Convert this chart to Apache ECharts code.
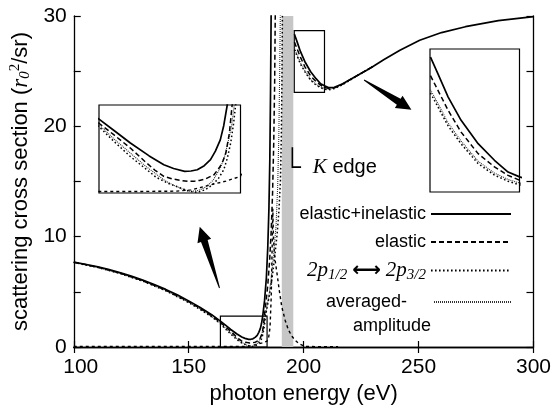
<!DOCTYPE html>
<html><head><meta charset="utf-8">
<script src="https://cdn.jsdelivr.net/npm/echarts/dist/echarts.min.js"></script>
<style>html,body{margin:0;padding:0;background:#fff}#c{width:554px;height:411px}</style>
</head><body><div id="c"></div>
<script>
// ---------- axis ticks ----------
const xTickVals = [100, 150, 200, 250, 300];
const yTickLabels = [0, 10, 20, 30];

// ---------- elastic+inelastic (solid) ----------
const totLoE = [100,105,110,115,120,125,130,135,140,145,150,155,160,163.8,166,168.3,171,173.1,174.5,176.1,177,177.9,178.9,179.8,180.5,181.2,181.7,182.2,183,183.8,184.4,184.9,185.3,185.6,185.9];
const totLoV = [7.70,7.50,7.28,7.03,6.74,6.42,6.06,5.66,5.22,4.73,4.18,3.58,2.93,2.35,1.98,1.59,1.18,0.90,0.78,0.69,0.70,0.74,0.87,1.06,1.33,1.69,2.15,2.80,4.2,6.3,9.0,12.5,17.0,23.0,31.0];
const totHiE = [196.0,197.1,198.6,200.5,203.0,205.4,207.4,209.1,211.0,213.4,217,222,227.6,230,235,241.9,250.5,260,270.4,284.7,300];
const totHiV = [28.35,27.70,26.79,25.88,24.97,24.32,23.86,23.67,23.50,23.54,23.85,24.45,25.10,25.40,26.05,26.90,27.80,28.50,29.03,29.58,29.94];

// ---------- elastic (dashed) ----------
const elLoE = [100,110,120,130,140,150,155,160,163.8,166,168.3,170.5,171.8,173.1,174.3,175.5,176.5,177.4,178.2,179,180.3,181.2,181.6,182,182.5,182.9,183.6,184.4,185.2,185.9,186.5,187,187.4,187.7];
const elLoV = [7.68,7.26,6.71,6.02,5.17,4.11,3.50,2.84,2.22,1.84,1.43,0.98,0.73,0.53,0.45,0.40,0.37,0.37,0.40,0.44,0.58,0.85,1.03,1.27,1.9,2.80,4.0,5.6,7.8,10.5,14.0,18.5,24.0,31.0];
const elHiE = [196.0,197.1,198.6,200.5,203.0,205.4,207.4,209.1,211.0,213.4,217,222,230];
const elHiV = [27.63,27.05,26.27,25.42,24.58,24.06,23.73,23.54,23.42,23.50,23.83,24.44,25.40];

// ---------- 2p1/2 <-> 2p3/2 (coarse dots) ----------
const p2LoE = [100,110,120,130,140,150,155,160,163.8,166,168.3,170.5,172,173.8,175.5,176.7,177.9,179,180,180.9,181.7,182.2,182.7,183.1,183.4,184.5,185.5,186.5,187.5,188.5,189.3,189.9,190.3,190.6,190.8];
const p2LoV = [7.66,7.23,6.67,5.97,5.10,4.03,3.40,2.73,2.11,1.63,1.16,0.77,0.50,0.30,0.16,0.06,0.02,0.10,0.25,0.45,0.74,1.1,1.6,2.2,2.8,4.0,5.2,6.6,8.3,10.3,12.5,15,19,25,31];
const p2HiE = [196.0,198.6,200.5,203.0,205.4,207.4,209.1,211.0,213.4,217,222,230];
const p2HiV = [26.95,25.66,24.96,24.19,23.74,23.50,23.36,23.31,23.43,23.78,24.42,25.40];

// ---------- averaged-amplitude (fine dots) ----------
const avLoE = [100,110,120,130,140,150,155,160,163.8,166,168.3,170.5,173.1,174.2,175.2,176,177.0,178,178.9,179.6,180.2,181.2,181.8,182.3,182.8,183.2,184,185,186,187,188,188.7,189.2,189.6,189.9];
const avLoV = [7.67,7.24,6.68,5.99,5.12,4.06,3.44,2.77,2.17,1.71,1.27,0.85,0.42,0.28,0.18,0.10,0.05,0.08,0.16,0.28,0.42,0.79,1.15,1.6,2.1,2.8,3.6,4.8,6.4,8.5,11,14.5,19,25,31];
const avHiE = [196.0,198.6,200.5,203.0,205.4,207.4,209.1,211.0,213.4,217,222,230];
const avHiV = [27.08,25.78,25.07,24.28,23.82,23.57,23.43,23.37,23.47,23.80,24.43,25.40];

// ---------- near-zero resonant curve (short dashes) ----------
const inE = [100,120,140,160,170,175,177,179.3,182,184.1,184.8,185.4,185.9,186.3,186.6,186.9,187.5,188.4,189.5,190.5,192,193.4,195,196.2,198,200.5,205,215];
const inV = [0.04,0.04,0.04,0.05,0.05,0.06,0.10,0.23,0.38,0.53,0.9,1.8,4.5,9.0,12.5,9.7,8.0,6.7,5.0,3.65,2.4,1.54,0.95,0.63,0.30,0.06,0.03,0.02];

// ---------- annotations (data units) ----------
const kEdgeBand = [190.5, 195.5];
const leftZoomX = [163.8, 184.1], leftZoomY = [0, 2.8];
const rightZoomX = [195.93, 209.08], rightZoomY = [23.08, 28.67];
const arrowLeft = [[163.4, 5.35], [154.8, 10.9]];   // tail, tip
const arrowRight = [[226.3, 24.2], [246.9, 21.5]];
const kEdgeMark = [[195.1, 18.1], [195.1, 16.3], [198.9, 16.3]];
const kEdgeText = [204.0, 16.25];

const FONT = "'Liberation Sans', Arial, Helvetica, sans-serif";
const SERIF = "'Liberation Serif', 'Times New Roman', serif";

function pairs(E, V) { return E.map((e, i) => [e, V[i]]); }
function joinSeg(a, b) { return pairs(a[0], a[1]).concat([[193, null]], pairs(b[0], b[1])); }

const curves = [
  { name: 'elastic+inelastic', data: joinSeg([totLoE, totLoV], [totHiE, totHiV]), ls: { type: 'solid', width: 1.7, color: '#000' }, z: 6 },
  { name: 'elastic', data: joinSeg([elLoE, elLoV], [elHiE, elHiV]), ls: { type: [5, 3], width: 1.5, color: '#000' }, z: 5 },
  { name: '2p', data: joinSeg([p2LoE, p2LoV], [p2HiE, p2HiV]), ls: { type: [1.6, 2.4], width: 1.5, color: '#000' }, z: 4 },
  { name: 'averaged-amplitude', data: joinSeg([avLoE, avLoV], [avHiE, avHiV]), ls: { type: [1, 1], width: 1.1, color: '#333' }, z: 3 },
  { name: 'resonant', data: pairs(inE, inV), ls: { type: [3, 3], width: 1.4, color: '#000' }, z: 2 }
];

const series = [];
[[0, 0], [2, 2], [3, 3]].forEach(([xi, yi]) => {
  curves.forEach(c => {
    series.push({
      type: 'line', name: c.name, xAxisIndex: xi, yAxisIndex: yi,
      data: c.data, showSymbol: false, symbol: 'none', clip: true, smooth: false,
      lineStyle: Object.assign({ join: 'round' }, c.ls), itemStyle: { color: c.ls.color }, z: c.z,
      connectNulls: false, animation: false, silent: true
    });
  });
});

series.push({
  type: 'line', name: 'marks', xAxisIndex: 0, yAxisIndex: 0, data: [], silent: true, animation: false,
  markArea: {
    silent: true,
    data: [
      [{ xAxis: kEdgeBand[0], itemStyle: { color: '#c6c6c6', borderWidth: 0 } }, { xAxis: kEdgeBand[1] }]
    ]
  }, z: 1
});
series.push({
  type: 'line', name: 'boxes', xAxisIndex: 0, yAxisIndex: 0, data: [], silent: true, animation: false, z: 8,
  markArea: {
    silent: true,
    itemStyle: { color: 'rgba(0,0,0,0)', borderColor: '#000', borderWidth: 1.2 },
    data: [
      [{ coord: [leftZoomX[0], leftZoomY[0]] }, { coord: [leftZoomX[1], leftZoomY[1]] }],
      [{ coord: [rightZoomX[0], rightZoomY[0]] }, { coord: [rightZoomX[1], rightZoomY[1]] }]
    ]
  }
});

function arrowPoints(api, tail, tip) {
  const t = api.coord(tail), h = api.coord(tip);
  const dx = h[0] - t[0], dy = h[1] - t[1], L = Math.hypot(dx, dy);
  const ux = dx / L, uy = dy / L, nx = -uy, ny = ux;
  const headLen = 15, headW = 7.2, bodyW = 3.5, tailW = 0.5;
  const bx = h[0] - ux * headLen, by = h[1] - uy * headLen;
  return [
    [t[0] + nx * tailW, t[1] + ny * tailW], [bx + nx * bodyW, by + ny * bodyW], [bx + nx * headW, by + ny * headW],
    h, [bx - nx * headW, by - ny * headW], [bx - nx * bodyW, by - ny * bodyW], [t[0] - nx * tailW, t[1] - ny * tailW]
  ];
}
series.push({
  type: 'custom', name: 'annot', xAxisIndex: 0, yAxisIndex: 0, data: [[0, 0]], silent: true, animation: false, clip: false, z: 9,
  renderItem: (params, api) => {
    const kt = api.coord(kEdgeText);
    return {
      type: 'group', children: [
        { type: 'polygon', shape: { points: arrowPoints(api, arrowLeft[0], arrowLeft[1]) }, style: { fill: '#000' } },
        { type: 'polygon', shape: { points: arrowPoints(api, arrowRight[0], arrowRight[1]) }, style: { fill: '#000' } },
        { type: 'polyline', shape: { points: kEdgeMark.map(p => api.coord(p)) }, style: { stroke: '#000', lineWidth: 1.6, fill: null } },
        { type: 'text', x: kt[0], y: kt[1], style: { text: '{k|K} edge', fontFamily: FONT, fontSize: 20, fill: '#000', align: 'left', verticalAlign: 'middle',
          rich: { k: { fontFamily: SERIF, fontStyle: 'italic', fontSize: 21, fill: '#000' } } } }
      ]
    };
  }
});

const axisCommon = { lineStyle: { color: '#000', width: 1.3 } };
const legendBase = { orient: 'horizontal', align: 'right', selectedMode: false, padding: 0, itemWidth: 80, itemHeight: 20, right: 42,
  itemStyle: { opacity: 0 },
  textStyle: { fontFamily: FONT, fontSize: 18, color: '#000' } };

const xLabelRich = {
  l: { fontFamily: FONT, fontSize: 21, color: '#000', padding: [0, 0, 0, 14] }
};

const option = {
  animation: false,
  backgroundColor: '#fff',
  grid: [
    { left: 72, right: 15, top: 16, bottom: 64, show: false },
    { left: 99, top: 105, width: 141.5, height: 88, show: true, borderColor: '#000', borderWidth: 1.2, backgroundColor: '#fff', z: 1 },
    { left: 430, top: 49, width: 89.5, height: 143, show: true, borderColor: '#000', borderWidth: 1.2, backgroundColor: '#fff', z: 1 }
  ],
  xAxis: [
    { gridIndex: 0, type: 'value', min: xTickVals[0], max: xTickVals[xTickVals.length - 1], interval: xTickVals[1] - xTickVals[0],
      axisLine: axisCommon, axisTick: { inside: true, length: 6, lineStyle: { color: '#000', width: 1.2 } }, splitLine: { show: false },
      axisLabel: { fontFamily: FONT, fontSize: 21, color: '#000', margin: 10, rich: xLabelRich,
        formatter: v => (v === xTickVals[0] ? '{l|' + v + '}' : String(v)) },
      name: 'photon energy (eV)', nameLocation: 'middle', nameGap: 32, nameTextStyle: { fontFamily: FONT, fontSize: 22, color: '#000' } },
    { gridIndex: 0, type: 'value', position: 'top', min: xTickVals[0], max: xTickVals[xTickVals.length - 1], interval: xTickVals[1] - xTickVals[0],
      axisLine: axisCommon, axisTick: { inside: true, length: 6, lineStyle: { color: '#000', width: 1.2 } }, axisLabel: { show: false }, splitLine: { show: false } },
    { gridIndex: 1, type: 'value', min: leftZoomX[0], max: leftZoomX[1], show: false },
    { gridIndex: 2, type: 'value', min: rightZoomX[0], max: rightZoomX[1], show: false }
  ],
  yAxis: [
    { gridIndex: 0, type: 'value', min: yTickLabels[0], max: yTickLabels[yTickLabels.length - 1], interval: 5,
      axisLine: axisCommon, axisTick: { inside: true, length: 7, lineStyle: { color: '#000', width: 1.2 } }, splitLine: { show: false },
      axisLabel: { fontFamily: FONT, fontSize: 21, color: '#000', margin: 7, formatter: v => (yTickLabels.includes(v) ? String(v) : '') },
      name: 'scattering cross section ({i|r}{sub|0}{sup|2}/sr)', nameLocation: 'middle', nameGap: 34,
      nameTextStyle: { fontFamily: FONT, fontSize: 22, color: '#000',
        rich: {
          i: { fontFamily: SERIF, fontStyle: 'italic', fontSize: 23, color: '#000' },
          sub: { fontFamily: SERIF, fontStyle: 'italic', fontSize: 15, color: '#000', padding: [9, 0, 0, 0] },
          sup: { fontFamily: SERIF, fontSize: 15, color: '#000', padding: [0, 0, 10, 0] }
        } } },
    { gridIndex: 0, type: 'value', position: 'right', min: yTickLabels[0], max: yTickLabels[yTickLabels.length - 1], interval: 5,
      axisLine: axisCommon, axisTick: { inside: true, length: 7, lineStyle: { color: '#000', width: 1.2 } }, axisLabel: { show: false }, splitLine: { show: false } },
    { gridIndex: 1, type: 'value', min: leftZoomY[0], max: leftZoomY[1], show: false },
    { gridIndex: 2, type: 'value', min: rightZoomY[0], max: rightZoomY[1], show: false }
  ],
  legend: [
    Object.assign({}, legendBase, { data: ['elastic+inelastic'], top: 205 }),
    Object.assign({}, legendBase, { data: ['elastic'], top: 233 }),
    Object.assign({}, legendBase, { data: ['2p'], top: 260, itemHeight: 24,
      formatter: () => '{i|2p}{s|1/2} {a|⟷} {i|2p}{s|3/2}',
      textStyle: { fontFamily: FONT, fontSize: 18, color: '#000',
        rich: {
          i: { fontFamily: SERIF, fontStyle: 'italic', fontSize: 21, color: '#000' },
          s: { fontFamily: SERIF, fontStyle: 'italic', fontSize: 15, color: '#000', padding: [9, 0, 0, 0] },
          a: { fontFamily: "'DejaVu Sans', sans-serif", fontSize: 20, fontWeight: 'bold', color: '#000' }
        } } }),
    Object.assign({}, legendBase, { data: ['averaged-amplitude'], top: 293, itemWidth: 77,
      formatter: () => 'averaged-', textStyle: { fontFamily: FONT, fontSize: 18, color: '#000', padding: [0, 22, 0, 0] } })
  ],
  graphic: [
    { type: 'text', left: 353, top: 317, style: { text: 'amplitude', fontFamily: FONT, fontSize: 18, fill: '#000' } }
  ],
  series: series
};

const chart = echarts.init(document.getElementById('c'), null, { renderer: 'canvas' });
chart.setOption(option);
</script>
</body></html>
